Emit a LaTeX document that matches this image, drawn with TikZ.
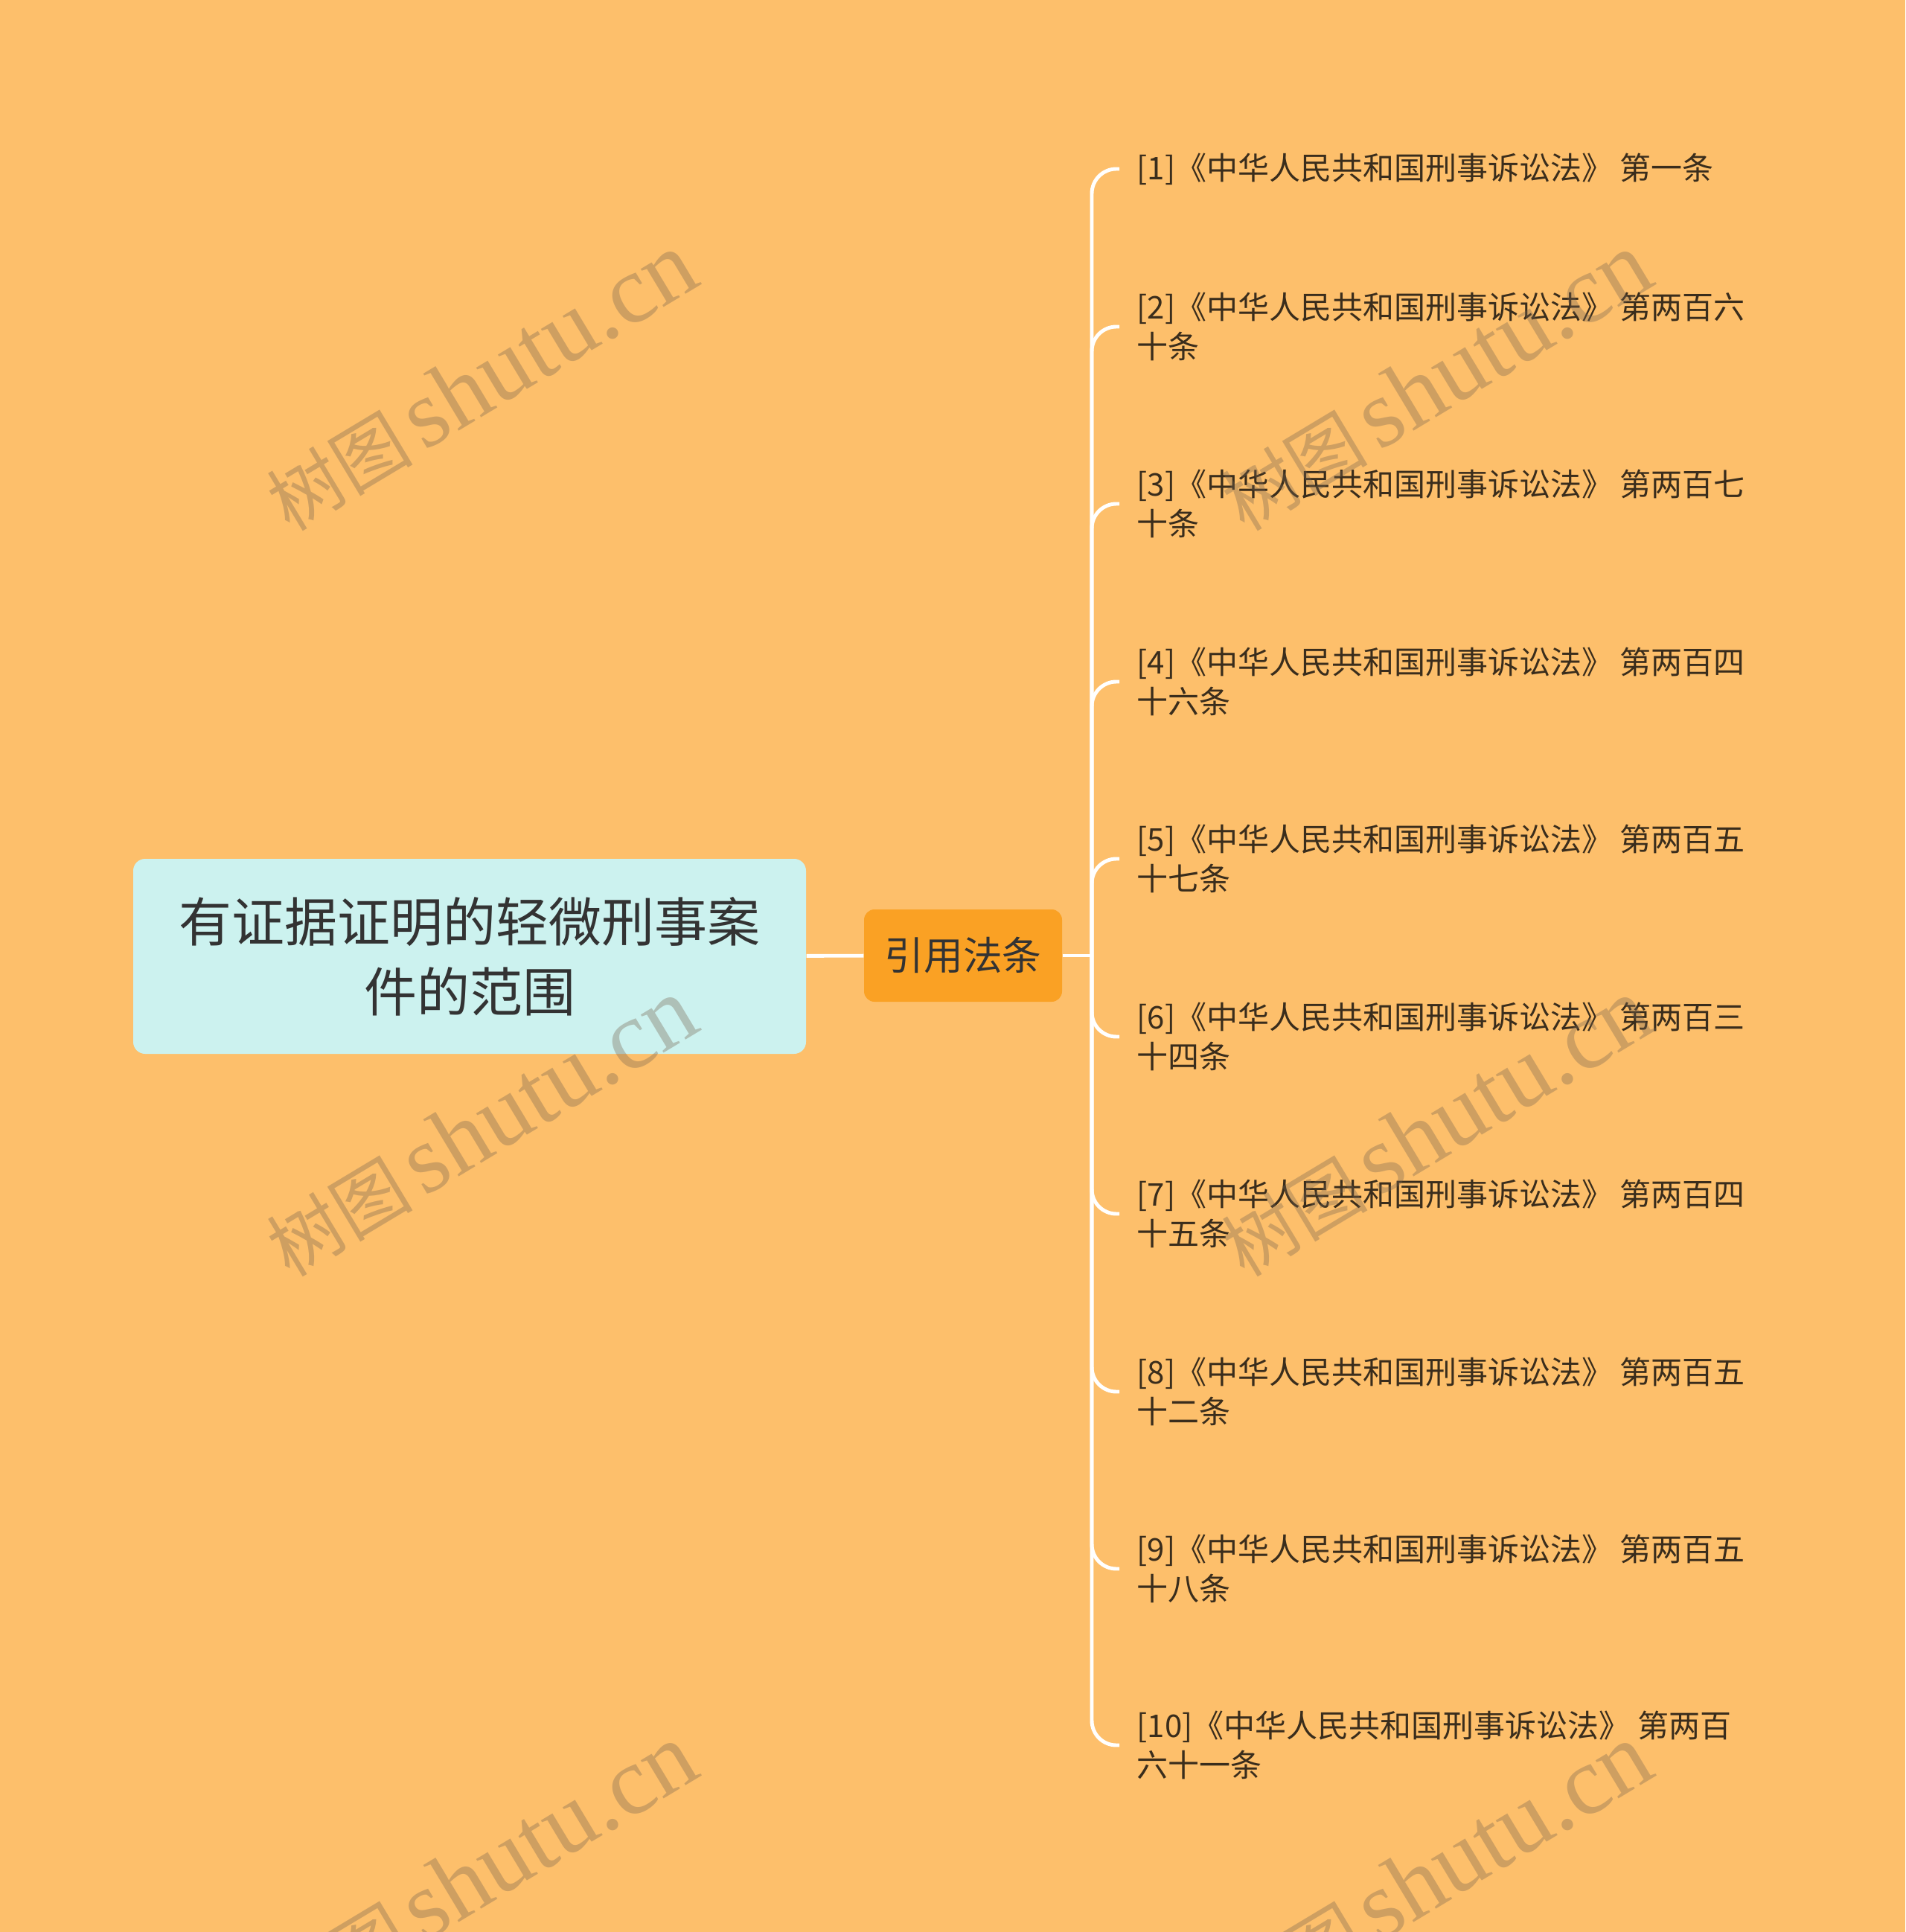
\documentclass[tikz,border=0pt]{standalone}
\usepackage{fontspec}
\setmainfont{Noto Sans CJK SC}
\newfontfamily\wmfont{Liberation Serif}
\usepackage{xcolor}
\usetikzlibrary{positioning}

\definecolor{bgorange}{RGB}{253,191,107}
\definecolor{rootfill}{RGB}{204,242,239}
\definecolor{midfill}{RGB}{250,161,36}
\definecolor{leaftext}{RGB}{58,45,28}
\definecolor{wmcolor}{RGB}{120,100,80}

\tikzset{
	rootbox/.style = {draw = none, fill = rootfill, rounded corners = 0.16cm,
		minimum width = 9.04cm, minimum height = 2.62cm, align = center,
		text = black!80, font = \fontsize{20.2}{26.8}\selectfont},
	midbox/.style = {draw = none, fill = midfill, rounded corners = 0.14cm,
		minimum width = 2.66cm, minimum height = 1.24cm,
		text = black!80, font = \fontsize{15}{18}\selectfont},
	leafbox/.style = {anchor = west, inner xsep = 0.23cm, inner ysep = 0pt,
		align = left, text = leaftext, font = \fontsize{11.95}{15.1}\selectfont},
	branch/.style = {draw = white, line width = 1.4pt, rounded corners = 0.33cm},
	wmark/.style = {rotate = 31, text = wmcolor, text opacity = 0.35,
		font = \fontsize{28}{28}\selectfont}
}

\newcommand{\wmtext}{树图\hspace{0.15cm}{\wmfont\fontsize{37}{37}\selectfont shutu.cn}}

\begin{document}
\begin{tikzpicture}
	\def\forkx{14.67};
	\def\leafx{15.04};
	
	\fill [bgorange] (0,0) rectangle (25.6,-25.96);
	\useasboundingbox (0,0) rectangle (25.6,-25.96);
	
	\node [rootbox] (root) at (6.31,-12.85) {有证据证明的轻微刑事案\\件的范围};
	\node [midbox] (cite) at (12.94,-12.84) {引用法条};
	\coordinate (fork) at (\forkx,-12.84);
	
	\node [leafbox] (l1) at (\leafx,-2.27) {[1]《中华人民共和国刑事诉讼法》 第一条};
	\node [leafbox] (l2) at (\leafx,-4.39) {[2]《中华人民共和国刑事诉讼法》 第两百六\\十条};
	\node [leafbox] (l3) at (\leafx,-6.77) {[3]《中华人民共和国刑事诉讼法》 第两百七\\十条};
	\node [leafbox] (l4) at (\leafx,-9.16) {[4]《中华人民共和国刑事诉讼法》 第两百四\\十六条};
	\node [leafbox] (l5) at (\leafx,-11.54) {[5]《中华人民共和国刑事诉讼法》 第两百五\\十七条};
	\node [leafbox] (l6) at (\leafx,-13.93) {[6]《中华人民共和国刑事诉讼法》 第两百三\\十四条};
	\node [leafbox] (l7) at (\leafx,-16.31) {[7]《中华人民共和国刑事诉讼法》 第两百四\\十五条};
	\node [leafbox] (l8) at (\leafx,-18.70) {[8]《中华人民共和国刑事诉讼法》 第两百五\\十二条};
	\node [leafbox] (l9) at (\leafx,-21.08) {[9]《中华人民共和国刑事诉讼法》 第两百五\\十八条};
	\node [leafbox] (l10) at (\leafx,-23.45) {[10]《中华人民共和国刑事诉讼法》 第两百\\六十一条};
	
	\draw [branch] (root) -- (cite);
	\draw [branch] (cite) -- (fork);
	
	\draw [branch] (fork) |- (l1.west);
	\draw [branch] (fork) |- (l2.west);
	\draw [branch] (fork) |- (l3.west);
	\draw [branch] (fork) |- (l4.west);
	\draw [branch] (fork) |- (l5.west);
	\draw [branch] (fork) |- (l6.west);
	\draw [branch] (fork) |- (l7.west);
	\draw [branch] (fork) |- (l8.west);
	\draw [branch] (fork) |- (l9.west);
	\draw [branch] (fork) |- (l10.west);
	
	% watermarks
	\begin{scope}
		\clip (0,0) rectangle (25.6,-25.96);
		\node [wmark] (wm1) at (6.46,-5.13) {\wmtext};
		\node [wmark] (wm2) at (19.29,-5.13) {\wmtext};
		\node [wmark] (wm3) at (6.46,-15.15) {\wmtext};
		\node [wmark] (wm4) at (19.29,-15.15) {\wmtext};
		\node [wmark] (wm5) at (6.46,-25.17) {\wmtext};
		\node [wmark] (wm6) at (19.29,-25.17) {\wmtext};
	\end{scope}
\end{tikzpicture}
\end{document}
